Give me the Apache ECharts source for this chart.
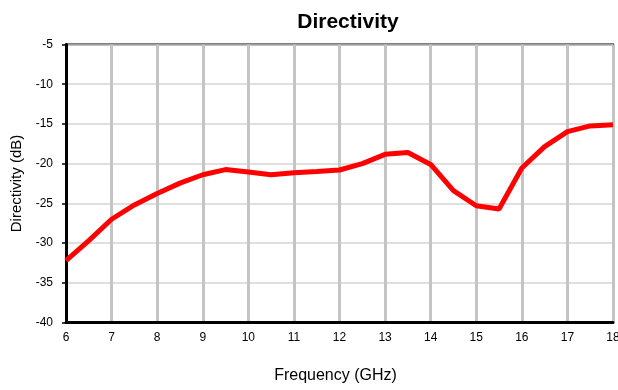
<!DOCTYPE html>
<html><head><meta charset="utf-8">
<script src="https://cdn.jsdelivr.net/npm/echarts@6/dist/echarts.min.js"></script>
<style>html,body{margin:0;padding:0;background:#fff}#c{width:618px;height:390px}</style>
</head><body><div id="c"></div>
<script>
const freq = [6,6.5,7,7.5,8,8.5,9,9.5,10,10.5,11,11.5,12,12.5,13,13.5,14,14.5,15,15.5,16,16.5,17,17.5,18];
const directivity = [-32.2,-29.7,-27.0,-25.2,-23.75,-22.45,-21.4,-20.75,-21.05,-21.4,-21.15,-21.0,-20.8,-20.0,-18.83,-18.6,-20.1,-23.4,-25.3,-25.7,-20.55,-17.85,-15.97,-15.25,-15.1];
const font = '"Liberation Sans", Arial, sans-serif';
const chart = echarts.init(document.getElementById('c'));
chart.setOption({
  animation:false,
  title:{text:'Directivity', left:343, top:7, textAlign:'center',
    textStyle:{fontFamily:font, fontSize:21, fontWeight:'bold', color:'#000'}},
  grid:{left:66, right:5, top:44.5, bottom:67.5, containLabel:false, outerBoundsMode:'none',
    show:true, borderColor:'#000', borderWidth:2, backgroundColor:'#fff'},
  xAxis:{type:'value', min:6, max:18, interval:1,
    name:'Frequency (GHz)', nameLocation:'middle', nameGap:45,
    nameTextStyle:{fontFamily:font, fontSize:16, color:'#000', padding:[0,8,0,0]},
    axisLine:{show:true, onZero:false, lineStyle:{color:'#000', width:3}},
    axisTick:{show:false},
    axisLabel:{fontFamily:font, fontSize:12, color:'#000', margin:9},
    splitLine:{show:true, lineStyle:{color:'#c4c4c4', width:3}}},
  yAxis:{type:'value', min:-40, max:-5, interval:5,
    name:'Directivity (dB)', nameLocation:'middle', nameGap:41, nameRotate:90,
    nameTextStyle:{fontFamily:font, fontSize:15, color:'#000'},
    axisLine:{show:true, onZero:false, lineStyle:{color:'#000', width:3}},
    axisTick:{show:true, length:4, lineStyle:{color:'#000', width:1.5}},
    axisLabel:{fontFamily:font, fontSize:12, color:'#000', margin:13},
    splitLine:{show:true, lineStyle:{color:'#d4d4d4', width:1.5}}},
  series:[{type:'line', data:freq.map((f,i)=>[f,directivity[i]]), showSymbol:false,
    smooth:false, lineStyle:{color:'#ff0000', width:5}, z:5}]
});
</script></body></html>
